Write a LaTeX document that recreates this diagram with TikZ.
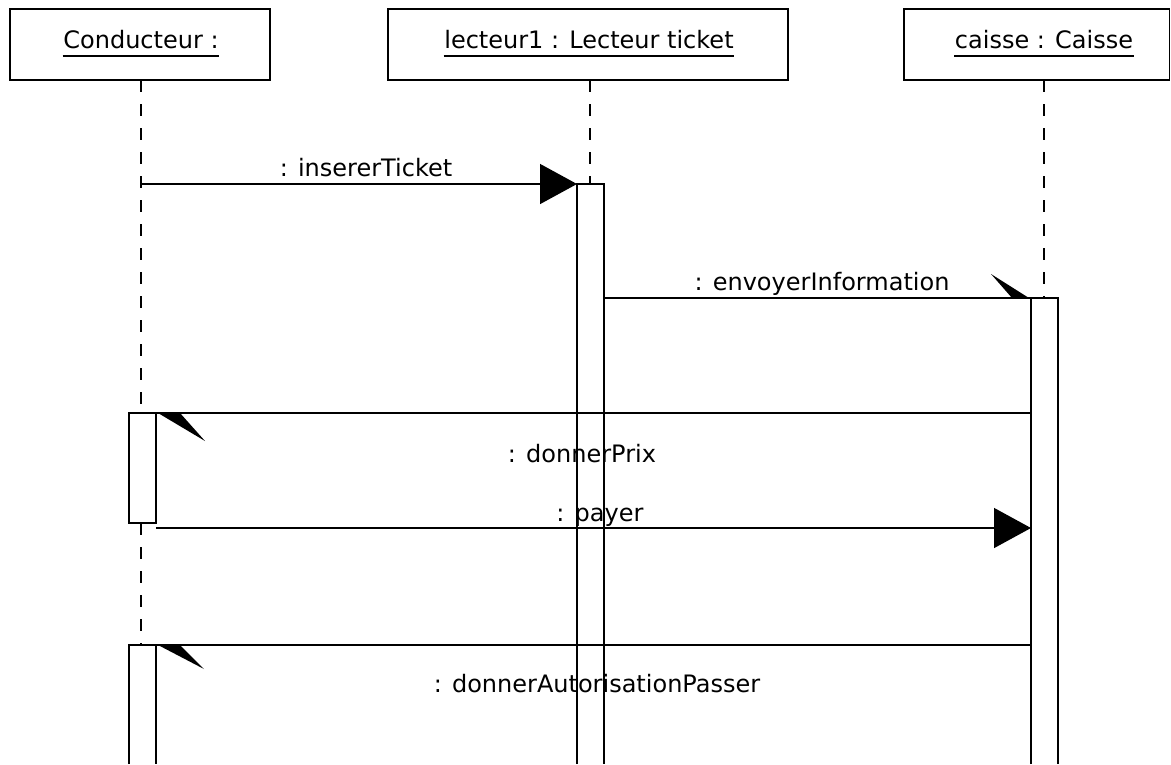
\documentclass[tikz,border=0pt]{standalone}
\usepackage{fontspec}
\setmainfont{DejaVu Sans}
\usetikzlibrary{arrows.meta}
\begin{document}
\begin{tikzpicture}[x=1pt,y=-1pt,
  line width=1.5pt,
  lbl/.style={font=\fontsize{24}{28}\selectfont, inner sep=0pt},
  objbox/.style={draw},
  lifeline/.style={dash pattern=on 12pt off 12pt},
  actbar/.style={draw},
  msg/.style={-{Triangle[length=37pt,width=40pt]}},
]
\useasboundingbox (0,0) rectangle (1171,764);

% object boxes
\draw[objbox] (10,9) rectangle (270,80);
\draw[objbox] (388,9) rectangle (788,80);
\draw[objbox] (904,9) rectangle (1169.5,80);

% object names (underlined)
\node[lbl, anchor=base] (t1) at (141,48) {Conducteur :};
\node[lbl, anchor=base] (t2) at (589,48) {lecteur1 : Lecteur ticket};
\node[lbl, anchor=base] (t3) at (1044,48) {caisse : Caisse};
\foreach \n in {t1,t2,t3}{
  \draw[line width=1.4pt] ([yshift=-8pt]\n.base west) -- ([yshift=-8pt]\n.base east);
}

% lifeline anchors
\coordinate (c0) at (141,80);
\coordinate (l0) at (590,80);
\coordinate (k0) at (1044,80);

% activation bars
\coordinate (la) at (577,184);  \coordinate (lb) at (604,184);
\coordinate (ka) at (1031,298); \coordinate (kb) at (1058,298);
\coordinate (ca) at (129,413);  \coordinate (cb) at (156,413);
\coordinate (cc) at (129,523);  \coordinate (cd) at (156,523);
\coordinate (ce) at (129,645);  \coordinate (cf) at (156,645);

% dashed lifelines
\draw[lifeline] (c0) -- (141,413);
\draw[lifeline] (141,523) -- (141,645);
\draw[lifeline] (l0) -- (590,184);
\draw[lifeline] (k0) -- (1044,298);

% message labels
\node[lbl, anchor=base] (m1) at (366,176) {: insererTicket};
\node[lbl, anchor=base] (m2) at (822,290) {: envoyerInformation};
\node[lbl, anchor=base] (m3) at (582,462) {: donnerPrix};
\node[lbl, anchor=base] (m4) at (600,521) {: payer};
\node[lbl, anchor=base] (m5) at (597,692) {: donnerAutorisationPasser};

% activation bars (open at the bottom edge)
\draw[actbar] (577,764) -- (la) -- (lb) -- (604,764);
\draw[actbar] (1031,764) -- (ka) -- (kb) -- (1058,764);
\draw[actbar] (ca) rectangle (cd);
\draw[actbar] (129,764) -- (ce) -- (cf) -- (156,764);

% synchronous messages
\coordinate (s1) at (141,184);
\draw[msg] (s1) -- (la);
\coordinate (s4) at (156,528);
\coordinate (e4) at (1031,528);
\draw[msg] (s4) -- (e4);

% asynchronous messages with half arrowheads
\coordinate (s2) at (604,298);
\draw (s2) -- (ka);
\fill (1029,298) -- ++(-17,0) -- ++(-21,-24) -- cycle;

\coordinate (s3) at (1031,413);
\draw (s3) -- (cb);
\fill (158,413) -- ++(22,0) -- ++(25,28) -- cycle;

\coordinate (s5) at (1031,645);
\draw (s5) -- (cf);
\fill (158,645) -- ++(22,0) -- ++(24,24) -- cycle;
\end{tikzpicture}
\end{document}
